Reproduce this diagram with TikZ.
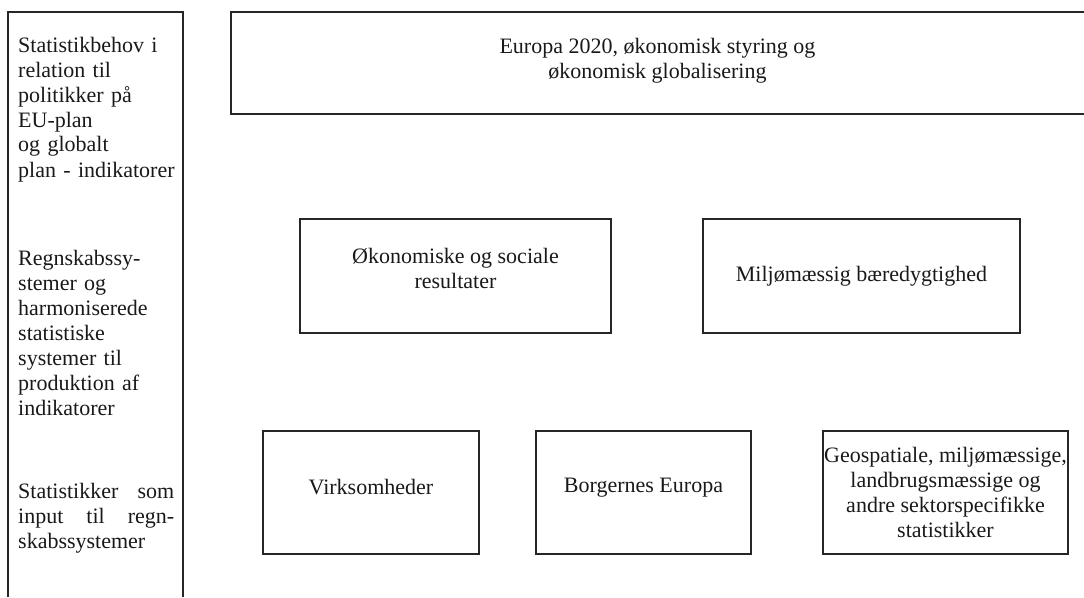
\documentclass[tikz,border=0pt]{standalone}
\usepackage{fontspec}
\setmainfont{Liberation Serif}
\begin{document}
\begin{tikzpicture}[x=1pt,y=-1pt,
  frame/.style={draw=black!85, line width=1.3pt},
  box/.style={frame, rectangle, inner sep=1pt, align=center,
    font=\fontsize{22}{25}\selectfont, text=black!90},
  lbl/.style={inner sep=0pt, align=center, font=\fontsize{22}{25}\selectfont, text=black!90},
  side/.style={anchor=base west, text width=170pt, inner sep=0pt,
    font=\fontsize{22}{25}\selectfont, text=black!90}]
\useasboundingbox (0,0) rectangle (1084,597);
% left column (open at bottom)
\draw[frame] (8,597) -- (8,12) -- (183,12) -- (183,597);
\node[side, align=left] (s1) at (18,52) {Statistikbehov i\\relation til\\politikker på\\EU-plan\\og globalt\\plan - indikatorer};
\node[side, align=left] (s2) at (18,265) {Regnskabssy-\\stemer og\\harmoniserede\\statistiske\\systemer til\\produktion af\\indikatorer};
\node[side, align=justify, text width=156pt] (s3) at (18,498) {Statistikker som\linebreak input til regn-\linebreak skabssystemer};
% top box (open at right)
\draw[frame] (1084,12) -- (231,12) -- (231,114) -- (1084,114);
\node[lbl] (top) at (657.5,61) {Europa 2020, økonomisk styring og\\økonomisk globalisering};
% middle row
\node[box, minimum width=311pt, minimum height=114pt] (oek) at (455.5,276) {};
\node[lbl] (oektxt) at ([yshift=8pt]oek.center) {Økonomiske og sociale\\resultater};
\node[box, minimum width=317pt, minimum height=114pt] (milj) at (861.5,276) {Miljømæssig bæredygtighed};
% bottom row
\node[box, minimum width=216pt, minimum height=123pt] (virk) at (371,492.5) {};
\node[lbl] (virktxt) at ([yshift=5pt]virk.center) {Virksomheder};
\node[box, minimum width=215pt, minimum height=123pt] (borg) at (643.5,492.5) {};
\node[lbl] (borgtxt) at ([yshift=5pt]borg.center) {Borgernes Europa};
\node[box, minimum width=245pt, minimum height=123pt] (geo) at (945.5,492.5) {Geospatiale, miljømæssige,\\landbrugsmæssige og\\andre sektorspecifikke\\statistikker};
\end{tikzpicture}
\end{document}
